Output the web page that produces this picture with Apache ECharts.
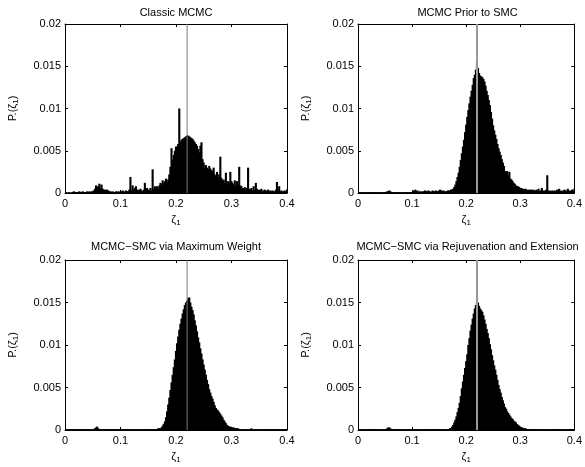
<!DOCTYPE html>
<html>
<head>
<meta charset="utf-8">
<script src="https://cdn.jsdelivr.net/npm/echarts@6/dist/echarts.min.js"></script>
<style>html,body{margin:0;padding:0;background:#fff;}#c{width:585px;height:467px;}</style>
</head>
<body>
<div id="c"></div>
<script>
// Histogram bin width (zeta_1 units); bins start at 0
const binWidth = 0.002;
// bin heights in units of 1e-4 (probability per bin), 200 bins from 0 to 0.4
const classicMCMC = [
1,0,1,1,0,1,1,2,1,1,1,1,2,1,1,2,1,1,1,2,
1,2,1,2,2,3,5,9,7,8,11,6,10,5,4,4,3,4,3,2,
2,1,2,1,1,2,1,2,1,2,2,3,2,1,3,2,2,4,19,3,
9,4,6,8,3,4,3,5,3,2,4,12,5,6,4,3,6,3,28,5,
8,6,8,5,9,12,10,15,12,14,17,13,16,22,31,53,39,45,50,55,
55,58,100,60,63,64,65,66,67,68,68,67,66,65,64,62,60,58,56,52,
48,56,60,40,36,31,33,30,28,32,29,27,26,30,22,20,25,18,22,43,
18,15,16,12,24,10,14,12,25,14,12,10,15,8,14,9,31,9,8,6,
5,7,4,6,30,5,4,6,3,8,4,12,5,3,4,3,5,2,3,4,
3,2,4,2,3,2,3,2,2,4,13,3,8,2,3,2,2,3,2,4];
const priorToSMC = [
1,1,1,1,1,1,1,1,1,1,1,1,1,1,1,1,1,1,1,1,
1,1,1,1,1,1,2,2,3,2,1,1,1,1,1,1,1,1,1,1,
1,1,1,1,1,1,1,1,1,1,3,2,4,2,3,1,2,2,1,2,
2,3,2,2,3,2,2,1,3,2,2,3,2,2,3,4,3,2,3,2,
2,2,3,3,3,4,4,5,7,10,14,19,24,31,39,47,55,63,72,81,
90,98,106,114,121,128,136,140,146,155,148,142,139,138,137,135,132,127,121,116,
110,104,96,88,80,74,69,64,58,53,49,45,40,36,32,26,25,26,21,25,
17,16,14,12,11,9,8,8,7,6,6,5,5,4,5,4,3,4,3,4,
3,4,3,3,4,3,5,2,3,6,3,2,3,4,21,3,2,3,2,3,
2,3,2,4,3,5,2,3,2,3,4,3,2,5,3,2,3,4,2,5];
const maxWeight = [
1,1,1,1,1,1,1,1,1,1,1,1,1,1,1,1,1,1,1,1,
1,1,1,1,1,1,2,3,4,2,1,1,1,1,1,1,1,1,1,1,
1,1,1,1,1,1,1,1,1,1,1,1,1,1,1,1,1,1,1,1,
1,1,1,1,1,1,1,1,1,1,1,1,1,1,1,1,1,1,1,1,
1,1,1,2,2,2,3,5,7,10,15,22,30,38,47,56,65,74,83,93,
102,110,118,125,131,137,142,147,150,152,155,156,150,145,141,136,129,123,116,109,
103,96,90,83,77,71,65,59,54,48,44,40,37,33,29,26,24,23,21,19,
17,15,12,10,8,6,5,4,4,3,3,3,2,2,2,2,1,1,1,1,
1,1,1,1,1,1,1,2,1,1,1,1,1,1,1,1,1,1,1,1,
1,1,1,1,1,1,1,1,1,1,1,1,1,1,1,1,1,1,1,1];
const rejuvExt = [
1,1,1,1,1,1,1,1,1,1,1,1,1,1,1,1,1,1,1,1,
1,1,1,1,1,1,2,3,3,2,1,1,1,1,1,1,1,1,1,1,
1,1,1,1,1,1,1,1,1,1,1,1,1,1,1,1,1,1,1,1,
1,1,1,1,1,1,1,1,1,1,1,1,1,1,1,1,1,1,1,1,
1,1,1,1,2,2,4,6,9,12,16,21,26,32,40,49,57,65,73,81,
89,100,108,117,124,131,137,143,147,152,150,146,143,141,139,135,130,125,119,114,
108,101,95,88,82,76,71,65,59,53,48,44,39,35,31,27,25,22,20,18,
16,14,13,11,10,9,7,6,5,4,3,3,2,2,2,1,1,1,1,1,
1,1,1,1,1,1,1,1,1,1,1,1,1,1,1,1,1,1,1,1,
1,1,1,1,1,1,1,1,1,1,1,1,1,1,1,1,1,1,1,1];
const trueValue = 0.22;
const titles = ['Classic MCMC','MCMC Prior to SMC','MCMC\u2212SMC via Maximum Weight','MCMC\u2212SMC via Rejuvenation and Extension'];
const xTickLabels = ['0','0.1','0.2','0.3','0.4'];
const yTickLabels = ['0','0.005','0.01','0.015','0.02'];
const allSeries = [classicMCMC, priorToSMC, maxWeight, rejuvExt];

const FONT = 'Liberation Sans, Arial, sans-serif';
const grids = [
  {left:65, top:24, width:222, height:169},
  {left:358, top:24, width:219, height:169},
  {left:65, top:260, width:222, height:170},
  {left:358, top:260, width:219, height:170}
];
const titleTops = [7, 7, 241, 241];
const lineColors = ['#7a7a7a','#9a9a9a','#7a7a7a','#9a9a9a'];
const lineWidths = [1, 2, 1, 2];

const option = {animation:false, backgroundColor:'#fff', title:[], grid:[], xAxis:[], yAxis:[], series:[]};
const subRich = {a:{fontSize:11, fontFamily:FONT, color:'#000', lineHeight:14}, b:{fontSize:8, fontFamily:FONT, color:'#000', lineHeight:14, verticalAlign:'bottom', padding:[5,0,0,0]}};

grids.forEach((g, k) => {
  option.grid.push(Object.assign({containLabel:false}, g));
  option.title.push({text:titles[k], left:g.left + g.width/2, top:titleTops[k], textAlign:'center', padding:0,
    textStyle:{fontSize:11, fontWeight:'normal', fontFamily:FONT, color:'#000'}});
  const tickCommon = {show:true, inside:true, length:3, lineStyle:{color:'#000', width:1}};
  // bottom x
  option.xAxis.push({type:'value', gridIndex:k, min:0, max:0.4, interval:0.1, position:'bottom',
    axisLine:{show:true, onZero:false, lineStyle:{color:'#000', width:1}}, axisTick:tickCommon, splitLine:{show:false},
    axisLabel:{margin:5, fontSize:11, fontFamily:FONT, color:'#000', formatter:(v)=>xTickLabels[Math.round(v/0.1)]},
    name:'{a|\u03b6}{b|1}', nameLocation:'middle', nameGap:20, nameTextStyle:{rich:subRich}});
  // top x (box)
  option.xAxis.push({type:'value', gridIndex:k, min:0, max:0.4, interval:0.1, position:'top',
    axisLine:{show:true, onZero:false, lineStyle:{color:'#000', width:1}}, axisTick:tickCommon, splitLine:{show:false}, axisLabel:{show:false}});
  // left y
  option.yAxis.push({type:'value', gridIndex:k, min:0, max:0.02, interval:0.005, position:'left',
    axisLine:{show:true, onZero:false, lineStyle:{color:'#000', width:1}}, axisTick:tickCommon, splitLine:{show:false},
    axisLabel:{margin:4, fontSize:11, fontFamily:FONT, color:'#000', formatter:(v)=>yTickLabels[Math.round(v/0.005)]},
    name:'{a|P.(\u03b6}{b|1}{a|)}', nameLocation:'middle', nameRotate:90, nameGap:45, nameTextStyle:{rich:subRich}});
  // right y (box)
  option.yAxis.push({type:'value', gridIndex:k, min:0, max:0.02, interval:0.005, position:'right',
    axisLine:{show:true, onZero:false, lineStyle:{color:'#000', width:1}}, axisTick:tickCommon, splitLine:{show:false}, axisLabel:{show:false}});

  const vals = allSeries[k];
  const rows = vals.map((v, i) => [i*binWidth, (i+1)*binWidth, v*1e-4]);
  option.series.push({type:'custom', xAxisIndex:2*k, yAxisIndex:2*k, data:rows, encode:{x:[0,1], y:2},
    clip:true, z:2,
    renderItem:(params, api) => {
      const p0 = api.coord([api.value(0), api.value(2)]);
      const p1 = api.coord([api.value(1), 0]);
      return {type:'rect', shape:{x:p0[0], y:p0[1], width:(p1[0]-p0[0])+1, height:p1[1]-p0[1]}, style:{fill:'#000'}};
    }});
  option.series.push({type:'line', xAxisIndex:2*k, yAxisIndex:2*k, data:[[trueValue,0],[trueValue,0.02]],
    symbol:'none', z:5, lineStyle:{color:lineColors[k], width:lineWidths[k]}});
});

const chart = echarts.init(document.getElementById('c'), null, {renderer:'canvas'});
chart.setOption(option);
</script>
</body>
</html>
